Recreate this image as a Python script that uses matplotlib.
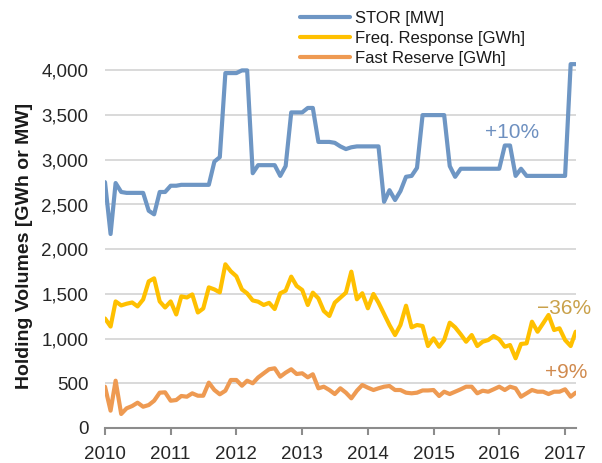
import matplotlib
matplotlib.use("Agg")
import matplotlib.pyplot as plt
import matplotlib.dates as mdates
from matplotlib.ticker import FuncFormatter
import pandas as pd

plt.rcParams['font.family'] = ['Liberation Sans', 'DejaVu Sans']

months = pd.date_range('2010-01-01', '2017-03-01', freq='MS')

stor = [2750, 2170, 2740, 2640, 2630, 2630, 2630, 2630, 2430, 2390,
        2640, 2640, 2710, 2710, 2720, 2720, 2720, 2720, 2720, 2720,
        2980, 3030, 3970, 3970, 3970, 4000, 4000, 2850, 2940, 2940,
        2940, 2940, 2820, 2930, 3530, 3530, 3530, 3580, 3580, 3200,
        3200, 3200, 3190, 3150, 3120, 3140, 3150, 3150, 3150, 3150,
        3150, 2530, 2660, 2550, 2650, 2810, 2820, 2910, 3500, 3500,
        3500, 3500, 3500, 2930, 2810, 2900, 2900, 2900, 2900, 2900,
        2900, 2900, 2900, 3160, 3160, 2820, 2900, 2820, 2820, 2820,
        2820, 2820, 2820, 2820, 2820, 4070, 4070]

freq = [1225, 1135, 1416, 1371, 1390, 1404, 1360, 1438, 1640, 1674,
        1416, 1348, 1416, 1270, 1472, 1460, 1494, 1292, 1337, 1573,
        1550, 1517, 1831, 1753, 1697, 1550, 1506, 1427, 1413, 1376,
        1400, 1331, 1507, 1536, 1693, 1589, 1544, 1376, 1514, 1450,
        1309, 1253, 1402, 1458, 1514, 1749, 1440, 1507, 1339, 1499,
        1402, 1275, 1152, 1040, 1152, 1368, 1126, 1152, 1141, 917,
        1003, 909, 984, 1178, 1126, 1048, 965, 1040, 917, 965,
        984, 1029, 992, 909, 928, 780, 940, 947, 1189, 1077,
        1171, 1264, 1096, 1115, 984, 917, 1077]

fast = [462, 194, 529, 157, 220, 246, 283, 238, 257, 305,
        395, 399, 305, 313, 358, 350, 388, 361, 361, 507,
        425, 377, 417, 537, 537, 473, 529, 500, 565, 612,
        657, 668, 574, 619, 657, 604, 612, 567, 601, 444,
        462, 425, 380, 444, 395, 332, 417, 481, 451, 425,
        444, 462, 470, 425, 425, 395, 388, 395, 420, 420,
        425, 358, 406, 380, 406, 433, 462, 462, 388, 417,
        406, 433, 462, 425, 462, 444, 350, 388, 425, 406,
        406, 380, 406, 406, 433, 350, 395]

series_names = ['STOR [MW]', 'Freq. Response [GWh]', 'Fast Reserve [GWh]']
series_colors = ['#6E96C4', '#FFC000', '#EE9A52']
annot_texts = ['+10%', '\u221236%', '+9%']
annot_colors = ['#6E90C0', '#C9A14A', '#D08A4E']
yticks = [0, 500, 1000, 1500, 2000, 2500, 3000, 3500, 4000]

W, H = 602, 463
fig = plt.figure(figsize=(W / 100, H / 100), dpi=100)
ax_left, ax_right = 105, 575.7
ax_bottom, ax_top = 428, 25.7
ax = fig.add_axes([ax_left / W, 1 - ax_bottom / H, (ax_right - ax_left) / W, (ax_bottom - ax_top) / H])

for vals, name, col in zip([stor, freq, fast], series_names, series_colors):
    ax.plot(months, vals, color=col, lw=3.0, label=name, solid_capstyle='round',
            solid_joinstyle='round', zorder=3)

ax.set_ylim(0, 4500)
ax.set_xlim(months[0], months[-1])
ax.set_yticks(yticks)
ax.yaxis.set_major_formatter(FuncFormatter(lambda v, p: f'{int(v):,}'))
for y in yticks[1:]:
    ax.axhline(y, color='#D9D9D9', lw=1.4, zorder=1)

ax.xaxis.set_major_locator(mdates.YearLocator())
ax.xaxis.set_major_formatter(mdates.DateFormatter('%Y'))

for s in ['top', 'right', 'left']:
    ax.spines[s].set_visible(False)
ax.spines['bottom'].set_color('#8C8C8C')
ax.spines['bottom'].set_linewidth(1.5)
ax.spines['bottom'].set_zorder(4)
ax.tick_params(axis='x', direction='out', length=5, width=1.5, color='#8C8C8C',
               labelsize=13.5, labelcolor='#262626', pad=8)
ax.tick_params(axis='y', length=0, labelsize=13.5, labelcolor='#262626', pad=12)

fig.text(25 / W, 1 - 246 / H, 'Holding Volumes [GWh or MW]', rotation=90,
         ha='center', va='center', fontsize=14, fontweight='bold', color='#1a1a1a')

leg = ax.legend(loc='upper left', bbox_to_anchor=(300 / W, 1 - 11 / H),
                bbox_transform=fig.transFigure, frameon=False, fontsize=12,
                handlelength=3.0, handletextpad=0.3, labelspacing=0.3,
                borderpad=0, borderaxespad=0)
for t in leg.get_texts():
    t.set_color('#1a1a1a')

# annotation labels (pixel positions of their left edge / vertical centre)
annot_px = [(485, 133), (537, 308), (545, 373)]
for (px, py), txt, col in zip(annot_px, annot_texts, annot_colors):
    fig.text(px / W, 1 - py / H, txt, color=col, fontsize=15, ha='left', va='center', zorder=5)

fig.savefig('out.png', dpi=100)
